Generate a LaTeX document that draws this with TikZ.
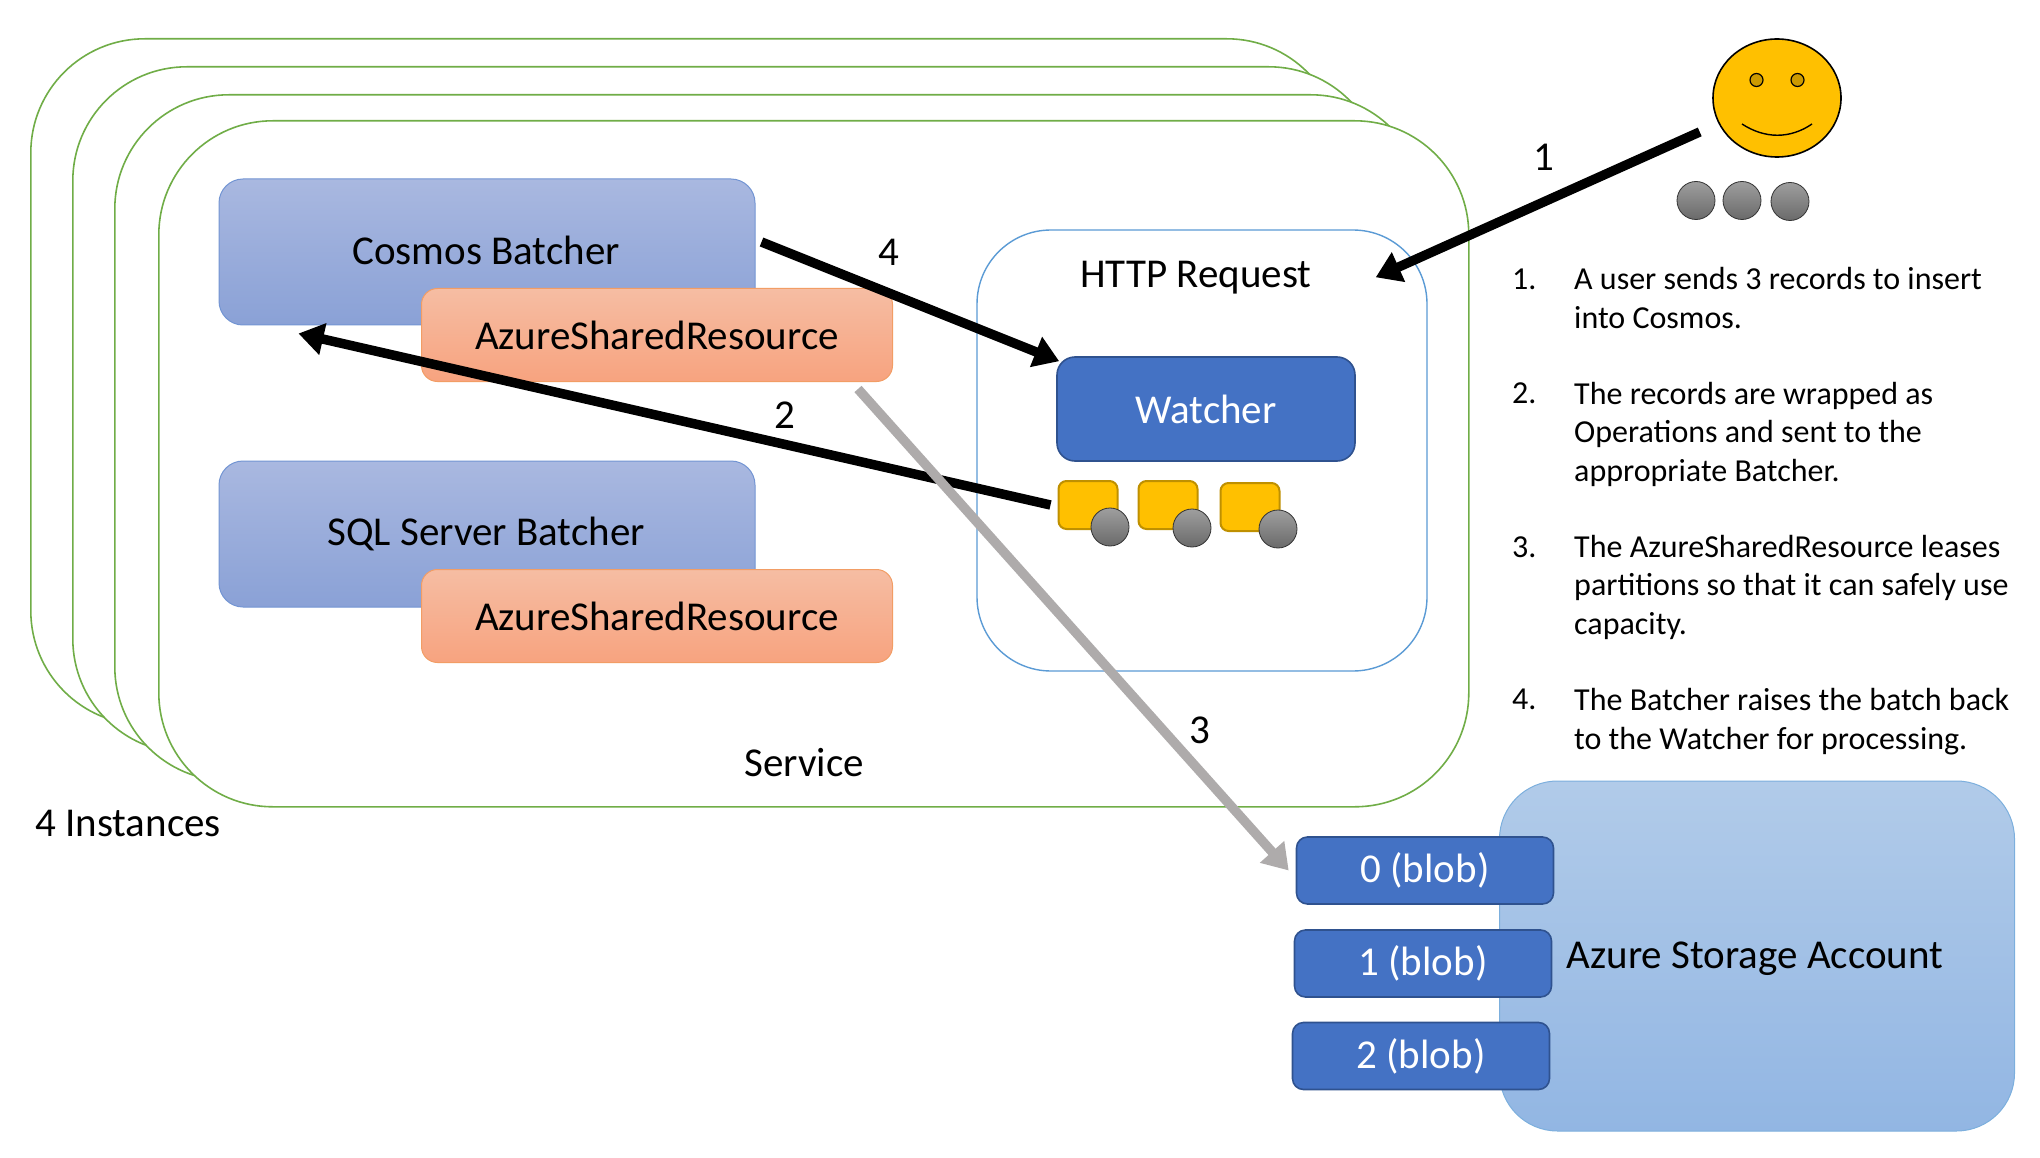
\documentclass[tikz,border=0pt]{standalone}
\usepackage{fontspec}
\setmainfont{Carlito}
\usetikzlibrary{arrows.meta,shapes.geometric}
\definecolor{svcgreen}{HTML}{70AD47}
\definecolor{reqblue}{HTML}{5B9BD5}
\definecolor{darkblue}{HTML}{4472C4}
\definecolor{darkedge}{HTML}{2F528F}
\definecolor{gold}{HTML}{FFC000}
\definecolor{goldedge}{HTML}{BF9000}
\definecolor{eyegold}{HTML}{CC9A00}
\definecolor{arrowgray}{HTML}{AEABAB}
\definecolor{batchtop}{HTML}{A9B8E0}
\definecolor{batchbot}{HTML}{8AA1D6}
\definecolor{sharedtop}{HTML}{F6BDA3}
\definecolor{sharedbot}{HTML}{F7A37F}
\definecolor{sharededge}{HTML}{ED7D31}
\definecolor{storetop}{HTML}{B1CBE9}
\definecolor{storebot}{HTML}{92B6E3}
\definecolor{ballgray}{HTML}{6A6A6A}
\tikzset{
  service/.style={draw=svcgreen, line width=1.6pt, fill=white, rounded corners=114pt,
    minimum width=1310pt, minimum height=686pt, anchor=north west},
  batcher/.style={draw=darkblue!75, line width=1pt, top color=batchtop, bottom color=batchbot,
    rounded corners=24pt, minimum width=536pt, minimum height=146pt},
  shared/.style={draw=sharededge!75, line width=1pt, top color=sharedtop, bottom color=sharedbot,
    rounded corners=16pt, minimum width=471pt, minimum height=93pt},
  solidbox/.style={draw=darkedge, line width=1.6pt, fill=darkblue, text=white},
  blob/.style={solidbox, rounded corners=11pt, minimum width=257pt, minimum height=67pt},
  record/.style={draw=goldedge, line width=2pt, fill=gold, rounded corners=8pt,
    minimum width=59pt, minimum height=48pt},
  ball/.style={circle, draw=black!80, line width=.8pt, top color=ballgray!65, bottom color=ballgray,
    minimum size=38pt, inner sep=0pt},
  eye/.style={circle, draw=black, line width=1.2pt, fill=eyegold, minimum size=13pt, inner sep=0pt},
  flow/.style={line width=9.5pt, -{Triangle[length=25pt,width=31pt]}},
  lbl/.style={inner sep=0pt},
  item/.style={inner sep=0pt, anchor=base west, align=left, font=\fontsize{32}{38.5}\selectfont}
}
\begin{document}
\begin{tikzpicture}[x=1pt, y=-1pt, font=\fontsize{41}{41}\selectfont]
  \useasboundingbox (0,0) rectangle (2040,1158);

  % stacked service instances
  \foreach \n/\x/\y in {a/30/38, b/72/66, c/114/94, d/158/120}
    \node[service] (service\n) at (\x,\y) {};
  \node[lbl] (servicelabel) at (804,763) {Service};
  \node[lbl] (instances) at (128,823) {4 Instances};

  % batchers
  \node[batcher] (cosmos) at (487,252) {};
  \node[lbl] (cosmoslabel) at (486,250) {Cosmos Batcher};
  \node[shared] (sharedone) at (657,335) {AzureSharedResource};
  \node[batcher] (sql) at (487,534) {};
  \node[lbl] (sqllabel) at (486,534) {SQL Server Batcher};
  \node[shared] (sharedtwo) at (657,616) {AzureSharedResource};

  % request
  \node[draw=reqblue, line width=1.4pt, fill=white, rounded corners=74pt,
    minimum width=450pt, minimum height=441pt] (http) at (1202,450.5) {};
  \node[lbl] (httplabel) at (1196,278) {HTTP Request};
  \node[solidbox, rounded corners=18pt, minimum width=298pt, minimum height=104pt] (watcher) at (1206,409) {Watcher};
  \foreach \n/\x/\y in {1/1088/505, 2/1168/505, 3/1250/507}
    \node[record] (rec\n) at (\x,\y) {};
  \foreach \n/\x/\y in {1/1110/527, 2/1192/528, 3/1278/529}
    \node[ball] (recball\n) at (\x,\y) {};

  % user
  \node[ellipse, draw=black, line width=1.6pt, fill=gold, minimum width=128pt, minimum height=118pt,
    inner sep=0pt] (user) at (1777,98) {};
  \node[eye] (eyeleft) at (1756.5,80) {};
  \node[eye] (eyeright) at (1797.5,80) {};
  \draw[line width=1.4pt] (1742,124) .. controls (1765,139) and (1790,139) .. (1812,124);
  \foreach \n/\x/\y in {1/1696/200.5, 2/1742/200.5, 3/1790/201.5}
    \node[ball] (userball\n) at (\x,\y) {};

  % storage
  \node[draw=reqblue!80, line width=1pt, top color=storetop, bottom color=storebot, rounded corners=58pt,
    minimum width=515pt, minimum height=350pt] (storage) at (1757,956) {};
  \node[lbl] (storagelabel) at (1755,959) {Azure Storage Account};
  \node[blob] (blob0) at (1425,870.5) {0 (blob)};
  \node[blob] (blob1) at (1423,963.5) {1 (blob)};
  \node[blob] (blob2) at (1421,1056) {2 (blob)};

  % steps
  \draw[flow] ([shift={(-17,12)}]user.200) -- ([shift={(-52,48)}]http.north east);
  \draw[flow] ([xshift=-7pt]rec1.west) -- ([shift={(80,8)}]cosmos.south west);
  \draw[flow, arrowgray] ([shift={(-35,7)}]sharedone.south east) -- ([xshift=-7pt]blob0.west);
  \draw[flow] ([shift={(6,-10)}]cosmos.east) -- ([shift={(3,5)}]watcher.north west);
  \node[lbl] (stepa) at (1544,157) {1};
  \node[lbl] (stepb) at (785,415) {2};
  \node[lbl] (stepc) at (1200,730) {3};
  \node[lbl] (stepd) at (889,252) {4};

  % list
  \foreach \n/\y in {1/290, 2/403, 3/557, 4/709}
    \node[item] (num\n) at (1512,\y) {\n.};
  \node[item] (itema) at (1574,328) {A user sends 3 records to insert\\into Cosmos.};
  \node[item] (itemb) at (1574,481) {The records are wrapped as\\Operations and sent to the\\appropriate Batcher.};
  \node[item] (itemc) at (1574,634) {The AzureSharedResource leases\\partitions so that it can safely use\\capacity.};
  \node[item] (itemd) at (1574,749) {The Batcher raises the batch back\\to the Watcher for processing.};
\end{tikzpicture}
\end{document}
